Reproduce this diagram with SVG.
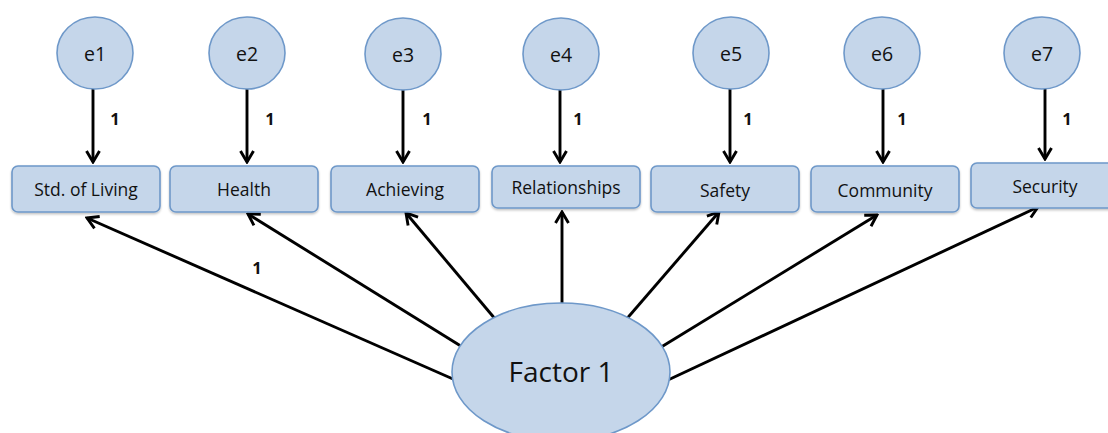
<svg xmlns="http://www.w3.org/2000/svg" width="1108" height="433" viewBox="0 0 1108 433">
<style>
.nd{fill:#c5d6ea;stroke:#6e98c9;stroke-width:1.6}
.t{font-family:"Open Sans","Noto Sans","Liberation Sans",sans-serif;fill:#111;text-anchor:middle}
.e{font-size:19.5px}
.b{font-size:17.5px}
.w{font-family:"Open Sans","Liberation Sans",sans-serif;font-weight:bold;font-size:16.5px;fill:#111;text-anchor:middle}
.c{stroke:#000;stroke-width:2.9;fill:none;marker-end:url(#ah)}
</style>
<defs>
<marker id="ah" viewBox="0 0 16 16" refX="14" refY="8" markerWidth="16" markerHeight="16" markerUnits="userSpaceOnUse" orient="auto">
<path d="M3,1.5 L14,8 L3,14.5" fill="none" stroke="#000" stroke-width="2.9" stroke-linejoin="miter"/>
</marker>
<filter id="sh" x="-10%" y="-10%" width="120%" height="130%">
<feDropShadow dx="0" dy="1.5" stdDeviation="1.2" flood-color="#000" flood-opacity="0.25"/>
</filter>
</defs>
<rect width="1108" height="433" fill="#fff"/>
<g id="connectors">
<line class="c" x1="93" y1="89" x2="93" y2="162"/>
<line class="c" x1="247" y1="89" x2="247" y2="162"/>
<line class="c" x1="403" y1="89" x2="403" y2="162"/>
<line class="c" x1="560" y1="89" x2="560" y2="162"/>
<line class="c" x1="730" y1="89" x2="730" y2="162"/>
<line class="c" x1="883" y1="89" x2="883" y2="162"/>
<line class="c" x1="1045" y1="89" x2="1045" y2="159"/>
<line class="c" x1="453" y1="379" x2="87" y2="218"/>
<line class="c" x1="464" y1="348" x2="248" y2="214"/>
<line class="c" x1="496" y1="320" x2="406" y2="213"/>
<line class="c" x1="562" y1="303" x2="562" y2="212"/>
<line class="c" x1="624" y1="322" x2="719" y2="212"/>
<line class="c" x1="658" y1="349" x2="877" y2="215"/>
<line class="c" x1="668" y1="380" x2="1038" y2="207"/>
<text class="w" x="115" y="125">1</text>
<text class="w" x="270" y="125">1</text>
<text class="w" x="427" y="125">1</text>
<text class="w" x="578" y="125">1</text>
<text class="w" x="748" y="125">1</text>
<text class="w" x="902" y="125">1</text>
<text class="w" x="1067" y="125">1</text>
<text class="w" x="257" y="274">1</text>
</g>
<g id="e1"><ellipse class="nd" cx="95" cy="53" rx="38" ry="36"/><text class="t e" x="95" y="61">e1</text></g>
<g id="e2"><ellipse class="nd" cx="247" cy="53" rx="38" ry="36"/><text class="t e" x="247" y="61">e2</text></g>
<g id="e3"><ellipse class="nd" cx="403" cy="54" rx="38" ry="36"/><text class="t e" x="403" y="62">e3</text></g>
<g id="e4"><ellipse class="nd" cx="561" cy="54" rx="38" ry="36"/><text class="t e" x="561" y="62">e4</text></g>
<g id="e5"><ellipse class="nd" cx="731" cy="53" rx="38" ry="36"/><text class="t e" x="731" y="61">e5</text></g>
<g id="e6"><ellipse class="nd" cx="882" cy="53" rx="38" ry="36"/><text class="t e" x="882" y="61">e6</text></g>
<g id="e7"><ellipse class="nd" cx="1042" cy="53" rx="38" ry="36"/><text class="t e" x="1042" y="61">e7</text></g>
<g id="std_of_living"><rect class="nd" filter="url(#sh)" x="12" y="166" width="148" height="46" rx="6"/><text class="t b" x="86" y="196">Std. of Living</text></g>
<g id="health"><rect class="nd" filter="url(#sh)" x="170" y="166" width="148" height="46" rx="6"/><text class="t b" x="244" y="196">Health</text></g>
<g id="achieving"><rect class="nd" filter="url(#sh)" x="331" y="166" width="148" height="46" rx="6"/><text class="t b" x="405" y="196">Achieving</text></g>
<g id="relationships"><rect class="nd" filter="url(#sh)" x="492" y="166" width="148" height="42" rx="6"/><text class="t b" x="566" y="194">Relationships</text></g>
<g id="safety"><rect class="nd" filter="url(#sh)" x="651" y="166" width="148" height="46" rx="6"/><text class="t b" x="725" y="197">Safety</text></g>
<g id="community"><rect class="nd" filter="url(#sh)" x="811" y="166" width="148" height="46" rx="6"/><text class="t b" x="885" y="197">Community</text></g>
<g id="security"><rect class="nd" filter="url(#sh)" x="971" y="163" width="148" height="45" rx="6"/><text class="t b" x="1045" y="193">Security</text></g>
<g id="factor1"><ellipse class="nd" cx="561" cy="372" rx="109" ry="69"/><text class="t" style="font-size:28px" x="561" y="382">Factor 1</text></g>
</svg>
